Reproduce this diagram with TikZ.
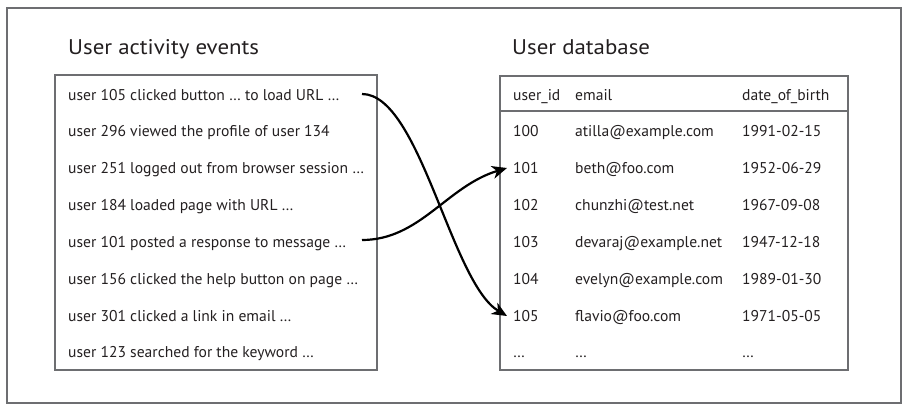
\documentclass[tikz,border=0pt]{standalone}
\usepackage{fontspec}
\setmainfont{PT Sans}
\newfontfamily\titlefont{PT Sans}[FakeStretch=1.08]
\usetikzlibrary{arrows.meta}
\definecolor{frameline}{HTML}{6D6E71}
\definecolor{ink}{HTML}{231F20}
\tikzset{
  boxline/.style={draw=frameline, line width=1.2pt},
  title/.style={anchor=base west, inner sep=0pt, text=ink, font=\titlefont\fontsize{21.2}{24}\selectfont},
  cell/.style={anchor=base west, inner sep=0pt, text=ink, font=\fontsize{15.6}{18}\selectfont},
  conn/.style={draw=black, line width=2.2pt, -{Stealth[length=15pt,width=13pt,inset=4.5pt]}}
}
\begin{document}
\begin{tikzpicture}[x=1pt,y=-1pt]
\useasboundingbox (0,0) rectangle (910,412);
\draw[boxline] (7,8) rectangle (901,403);
% left
\node[title] (t1) at (68,55) {User activity events};
\draw[boxline] (55,75) rectangle (377,370);
\node[cell] (e1) at (68,100) {user 105 clicked button … to load URL …};
\node[cell] (e2) at (68,136.85) {user 296 viewed the profile of user 134};
\node[cell] (e3) at (68,173.7) {user 251 logged out from browser session …};
\node[cell] (e4) at (68,210.55) {user 184 loaded page with URL …};
\node[cell] (e5) at (68,247.4) {user 101 posted a response to message …};
\node[cell] (e6) at (68,284.25) {user 156 clicked the help button on page …};
\node[cell] (e7) at (68,321.1) {user 301 clicked a link in email …};
\node[cell] (e8) at (68,357.95) {user 123 searched for the keyword …};
% right
\node[title] (t2) at (512,55) {User database};
\draw[boxline] (500,76) rectangle (848,370);
\draw[boxline] (500,111) -- (848,111);
\node[cell] (h1) at (513,100) {user\_id};
\node[cell] (h2) at (575,100) {email};
\node[cell] (h3) at (742,100) {date\_of\_birth};
\foreach \y/\id/\em/\dob [count=\i] in {136.85/100/atilla@example.com/1991-02-15,
  173.7/101/beth@foo.com/1952-06-29,
  210.55/102/chunzhi@test.net/1967-09-08,
  247.4/103/devaraj@example.net/1947-12-18,
  284.25/104/evelyn@example.com/1989-01-30,
  321.1/105/flavio@foo.com/1971-05-05}{
  \node[cell] (id\id) at (513,\y) {\id};
  \node[cell] (em\id) at (575,\y) {\em};
  \node[cell] (dob\id) at (742,\y) {\dob};
}
\node[cell] (idx) at (513,357.95) {…};
\node[cell] (emx) at (575,357.95) {…};
\node[cell] (dobx) at (742,357.95) {…};
% connectors
\coordinate (s1) at (362,94);
\coordinate (s2) at (362,240);
\coordinate (d1) at (507,316);
\coordinate (d2) at (507,168);
\draw[conn] (s1) .. controls +(58,0) and +(-56,-33) .. (d1);
\draw[conn] (s2) .. controls +(58,0) and +(-60,18) .. (d2);
\end{tikzpicture}
\end{document}
